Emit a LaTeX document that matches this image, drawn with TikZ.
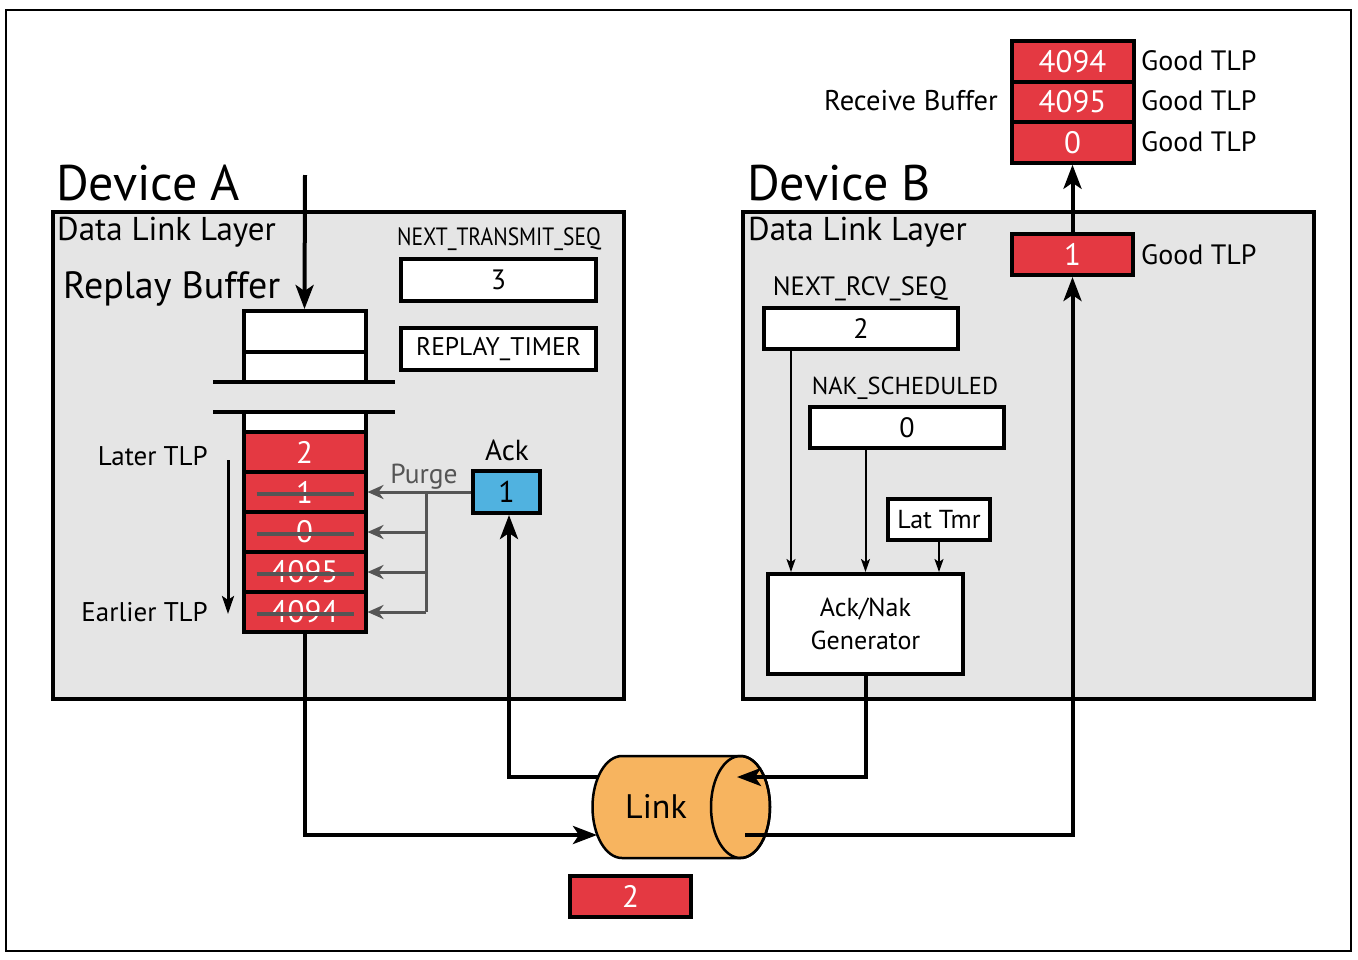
\documentclass[tikz,border=0pt]{standalone}
\usepackage{fontspec}
\usepackage{graphicx}
\setmainfont{PT Sans}
\usetikzlibrary{arrows.meta}
\definecolor{boxgray}{RGB}{229,229,229}
\definecolor{tlpred}{RGB}{228,57,66}
\definecolor{ackblue}{RGB}{80,178,224}
\definecolor{linkorange}{RGB}{247,180,95}
\definecolor{purgegray}{RGB}{85,85,85}
\begin{document}
\begin{tikzpicture}[x=1pt,y=-1pt,
  fs/.style={font=\fontsize{#1}{#1}\selectfont},
  lbl/.style={inner sep=0pt},
  dev/.style={draw, line width=4pt, fill=boxgray, inner sep=0pt, anchor=north west, minimum width=571pt, minimum height=487pt},
  wbox/.style={draw, line width=4pt, fill=white, inner sep=0pt, minimum width=195pt, minimum height=42pt},
  wcell/.style={draw, line width=4pt, fill=white, inner sep=0pt, minimum width=122pt},
  cell/.style={draw, line width=4pt, fill=tlpred, text=white, inner sep=0pt, minimum width=122pt, minimum height=40pt, fs=31},
  conn/.style={line width=4pt, -{Stealth[length=24pt,width=18pt,inset=6pt]}},
  sconn/.style={line width=2pt, -{Stealth[length=13pt,width=9pt,inset=3pt]}},
  purge/.style={line width=3pt, draw=purgegray, -{Stealth[length=16pt,width=14pt,inset=5pt]}, color=purgegray},
  strike/.style={line width=3.5pt, draw=purgegray},
  bar/.style={line width=4pt}
]
\useasboundingbox (0,0) rectangle (1358,959);
\draw[line width=1.2pt] (6,10) rectangle (1351,951);

% ---------------- Device A ----------------
\node[dev] (devA) at (51,210) {};
\node[lbl, anchor=base west, fs=50] (titleA) at (56,200) {Device A};
\node[lbl, anchor=base west, fs=33] (dllA) at (57,240) {Data Link Layer};
\node[lbl, anchor=base west, fs=38] (rbuf) at (63,298) {Replay Buffer};

\node[lbl, fs=25] (ntsl) at (499,239) {\scalebox{0.86}[1]{NEXT\_TRANSMIT\_SEQ}};
\node[wbox, fs=28] (nts) at (498.5,280) {3};
\node[wbox, fs=25.5] (rt) at (498.5,349) {REPLAY\_TIMER};

% replay buffer stack
\node[wcell, minimum height=41pt] (top1) at (304.5,331.5) {};
\node[wcell, minimum height=30pt] (top2) at (304.5,367) {};
\node[wcell, minimum height=20pt] (top3) at (304.5,422) {};
\draw[bar] (213,382) -- (395,382);
\draw[bar] (213,412) -- (395,412);
\node[cell] (c2) at (304.5,452) {2};
\node[cell] (c1) at (304.5,492) {1};
\node[cell] (c0) at (304.5,532) {0};
\node[cell] (c4095) at (304.5,572) {4095};
\node[cell] (c4094) at (304.5,612) {4094};
\foreach \c in {c1,c0,c4095,c4094}{
  \draw[strike] ([xshift=15pt,yshift=-2pt]\c.west) -- ([xshift=-14pt,yshift=-2pt]\c.east);
}

\coordinate (inA) at (305,175);
\draw[conn] (inA) -- (top1.north);

\node[lbl, anchor=east, fs=27] (later) at (208,456) {Later TLP};
\node[lbl, anchor=east, fs=27] (earlier) at (208,612) {Earlier TLP};
\coordinate (ordA) at (228,460);
\coordinate (ordB) at (228,614);
\draw[line width=3pt, -{Stealth[length=18pt,width=12pt,inset=4pt]}] (ordA) -- (ordB);

% Ack and purge
\node[lbl, fs=29] (acklbl) at (507,450) {Ack};
\node[draw, line width=4pt, fill=ackblue, inner sep=0pt, minimum width=67pt, minimum height=42pt, fs=30] (ack) at (506.5,492) {1};
\node[lbl, fs=27.5, text=purgegray] (purgelbl) at (424,477) {Purge};
\coordinate (pj1) at (426,492);
\coordinate (pj4) at (426,612);
\draw[line width=3pt, purgegray] (ack.west) -- (pj1) -- (pj4);
\draw[purge] (pj1) -- (c1.east);
\draw[purge] (pj1 |- c0.east) -- (c0.east);
\draw[purge] (pj1 |- c4095.east) -- (c4095.east);
\draw[purge] (pj4) -- (c4094.east);

% ---------------- Link ----------------
\fill[linkorange] (622,756) -- (740.5,756) arc[start angle=90,end angle=-90,x radius=29.5pt,y radius=51pt] -- (622,858) arc[start angle=270,end angle=90,x radius=29.5pt,y radius=51pt] -- cycle;
\draw[line width=2.5pt] (622,756) -- (740.5,756) arc[start angle=90,end angle=-90,x radius=29.5pt,y radius=51pt] -- (622,858) arc[start angle=270,end angle=90,x radius=29.5pt,y radius=51pt] -- cycle;
\draw[line width=2.5pt] (740.5,807) ellipse[x radius=29.5pt, y radius=51pt];
\node[lbl, fs=34] (link) at (656,806) {Link};
\coordinate (lkA) at (597,835);
\coordinate (lkB) at (598,777);
\coordinate (lkC) at (737,777);
\coordinate (lkD) at (745,835);

\node[cell, minimum width=121pt, minimum height=41pt] (tx2) at (630.5,896.5) {2};

% ---------------- Device B ----------------
\node[dev] (devB) at (741,210) {};
\node[lbl, anchor=base west, fs=50] (titleB) at (747,200) {Device B};
\node[lbl, anchor=base west, fs=33] (dllB) at (748,240) {Data Link Layer};

\node[cell, minimum width=121pt, minimum height=41pt] (g1) at (1072.5,254.5) {1};
\node[lbl, anchor=west, fs=28] (g1l) at (1141,255) {Good TLP};

\node[cell, minimum height=40.5pt] (r4094) at (1072.5,61.5) {4094};
\node[cell, minimum height=40.5pt] (r4095) at (1072.5,102) {4095};
\node[cell, minimum height=40.5pt] (r0) at (1072.5,142.5) {0};
\node[lbl, anchor=west, fs=28] (r4094l) at (1141,61) {Good TLP};
\node[lbl, anchor=west, fs=28] (r4095l) at (1141,101) {Good TLP};
\node[lbl, anchor=west, fs=28] (r0l) at (1141,142) {Good TLP};
\node[lbl, anchor=east, fs=28.5] (recvl) at (998,101) {Receive Buffer};

\node[lbl, fs=26.5] (nrsl) at (860,289) {NEXT\_RCV\_SEQ};
\node[wbox, fs=28, minimum width=194pt, minimum height=41pt] (nrs) at (861,328.5) {2};
\node[lbl, fs=24.5] (nsl) at (905,388) {NAK\_SCHEDULED};
\node[wbox, fs=28, minimum width=194pt, minimum height=41pt] (ns) at (907,427.5) {0};
\node[draw, line width=3.5pt, fill=white, inner sep=0pt, minimum width=102pt, minimum height=41pt, fs=26] (lat) at (939,519.5) {Lat Tmr};
\node[draw, line width=4pt, fill=white, inner sep=0pt, minimum width=195pt, minimum height=100pt, fs=26, align=center] (gen) at (865.5,624) {Ack/Nak\\[7pt]Generator};

\draw[sconn] ([xshift=-70pt]nrs.south) -- ([xshift=-70pt]nrs.south |- gen.north);
\draw[sconn] (gen.north |- ns.south) -- (gen.north);
\draw[sconn] (lat.south) -- (lat.south |- gen.north);

% ---------------- connectors through link ----------------
\draw[conn] (c4094.south) -- (c4094.south |- lkA) -- (lkA);
\draw[conn] (lkB) -- ([xshift=2.5pt]ack.south |- lkB) -- ([xshift=2.5pt]ack.south);
\draw[conn] (gen.south) -- (gen.south |- lkC) -- (lkC);
\draw[conn] (lkD) -- (g1.south |- lkD) -- (g1.south);
\draw[conn] (g1.north) -- (r0.south);
\end{tikzpicture}
\end{document}
